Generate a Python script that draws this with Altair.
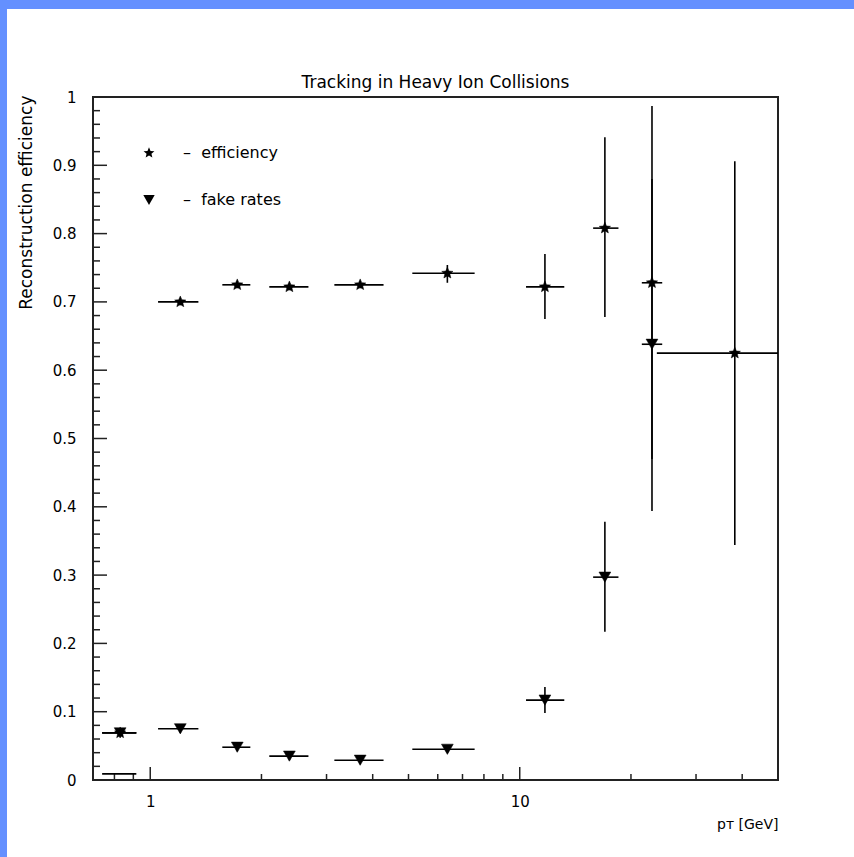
import altair as alt
import pandas as pd

FONT = "DejaVu Sans"
BLUE = "#6490ff"

title_text = "Tracking in Heavy Ion Collisions"
series_names = ["efficiency", "fake rates"]

# bins (p_T, GeV)
bin_center = [0.829, 1.206, 1.72, 2.38, 3.7, 6.37, 11.7, 17.0, 22.8, 38.2]
bin_low = [0.741, 1.05, 1.567, 2.10, 3.15, 5.12, 10.4, 15.8, 21.4, 23.5]
bin_high = [0.917, 1.35, 1.866, 2.68, 4.28, 7.55, 13.2, 18.5, 24.3, 50.0]

# efficiency
eff_y = [0.069, 0.700, 0.725, 0.722, 0.725, 0.742, 0.722, 0.808, 0.728, 0.625]
eff_lo = [0.064, 0.695, 0.720, 0.717, 0.720, 0.728, 0.675, 0.678, 0.470, 0.344]
eff_hi = [0.074, 0.705, 0.730, 0.727, 0.730, 0.754, 0.770, 0.941, 0.987, 0.906]

# fake rates (first 9 bins)
fake_y = [0.069, 0.075, 0.048, 0.035, 0.029, 0.045, 0.117, 0.297, 0.638]
fake_lo = [0.064, 0.069, 0.042, 0.029, 0.023, 0.040, 0.098, 0.217, 0.394]
fake_hi = [0.074, 0.081, 0.054, 0.041, 0.035, 0.050, 0.136, 0.378, 0.880]

# lowest bar near zero in first bin
low_bar_lo = [0.741]
low_bar_hi = [0.917]
low_bar_y = [0.009]

# axis ticks
x_major = [1, 10]
x_minor = [0.8, 0.9, 2, 3, 4, 5, 6, 7, 8, 9, 20, 30, 40]
y_major = [0, 0.1, 0.2, 0.3, 0.4, 0.5, 0.6, 0.7, 0.8, 0.9, 1.0]
y_minor = [round(m + k * 0.02, 2) for m in y_major[:-1] for k in (1, 2, 3, 4)]

STAR = ("M0,-1L0.265,-0.364L0.951,-0.309L0.428,0.139L0.588,0.809L0,0.45"
        "L-0.588,0.809L-0.428,0.139L-0.951,-0.309L-0.265,-0.364Z")

rows = []
for i in range(len(eff_y)):
    rows.append(dict(series=series_names[0], x=bin_center[i], xlo=bin_low[i], xhi=bin_high[i],
                     y=eff_y[i], ylo=eff_lo[i], yhi=eff_hi[i]))
for i in range(len(fake_y)):
    rows.append(dict(series=series_names[1], x=bin_center[i], xlo=bin_low[i], xhi=bin_high[i],
                     y=fake_y[i], ylo=fake_lo[i], yhi=fake_hi[i]))
df = pd.DataFrame(rows)
low_df = pd.DataFrame(dict(xlo=low_bar_lo, xhi=low_bar_hi, y=low_bar_y))

W, H = 685, 683

xs = alt.Scale(type="log", domain=[0.7, 50], nice=False)
ys = alt.Scale(domain=[0, 1], nice=False, zero=False)

xaxis = alt.Axis(values=x_major, format="~g", ticks=False, domain=False, grid=False,
                 labelFont=FONT, labelFontSize=15, labelColor="black", labelPadding=14,
                 title="p\u1d1b [GeV]", titleFont=FONT, titleFontSize=14, titleFontWeight="normal",
                 titleColor="black", titleX=W, titleY=48, titleAlign="right",
                 titleBaseline="alphabetic")
yaxis = alt.Axis(values=y_major, format="~g", ticks=False, domain=False, grid=False,
                 labelFont=FONT, labelFontSize=15, labelColor="black", labelPadding=17,
                 title="Reconstruction efficiency", titleFont=FONT, titleFontSize=17,
                 titleFontWeight="normal", titleColor="black", titleAngle=270,
                 titleAlign="right", titleBaseline="middle", titleX=-67, titleY=-2)

one = alt.Data(values=[{"a": 1}])
top_band = alt.Chart(one).mark_rect(color=BLUE).encode(
    x=alt.value(-93), x2=alt.value(854 - 93), y=alt.value(-97), y2=alt.value(-88))
left_band = alt.Chart(one).mark_rect(color=BLUE).encode(
    x=alt.value(-93), x2=alt.value(-86), y=alt.value(-97), y2=alt.value(857 - 97))
title_mark = alt.Chart(one).mark_text(
    text=title_text, font=FONT, fontSize=17, color="black", align="center",
    baseline="alphabetic").encode(x=alt.value(W / 2), y=alt.value(-9))

base = alt.Chart(df)
xbars = base.mark_rule(color="black", strokeWidth=1.6).encode(
    x=alt.X("xlo:Q", scale=xs, axis=xaxis), x2="xhi:Q",
    y=alt.Y("y:Q", scale=ys, axis=yaxis))
ybars = base.mark_rule(color="black", strokeWidth=1.6).encode(
    x=alt.X("x:Q", scale=xs, axis=xaxis),
    y=alt.Y("ylo:Q", scale=ys, axis=yaxis), y2="yhi:Q")
points = base.mark_point(filled=True, fill="black", stroke="black", strokeWidth=0.5,
                         opacity=1, size=140).encode(
    x=alt.X("x:Q", scale=xs, axis=xaxis),
    y=alt.Y("y:Q", scale=ys, axis=yaxis),
    shape=alt.Shape("series:N",
                    scale=alt.Scale(domain=series_names, range=[STAR, "triangle-down"]),
                    legend=alt.Legend(orient="none", legendX=48, legendY=48, title=None,
                                      rowPadding=31, symbolSize=130, padding=0,
                                      symbolFillColor="black", symbolStrokeColor="black",
                                      labelFont=FONT, labelFontSize=16, labelColor="black",
                                      labelOffset=26,
                                      labelExpr="'\u2013\u00a0\u00a0' + datum.label")))
low_bar = alt.Chart(low_df).mark_rule(color="black", strokeWidth=1.6).encode(
    x=alt.X("xlo:Q", scale=xs, axis=xaxis), x2="xhi:Q",
    y=alt.Y("y:Q", scale=ys, axis=yaxis))

ytick_major = alt.Chart(pd.DataFrame(dict(v=y_major))).mark_rule(color="#222", strokeWidth=1.5).encode(
    y=alt.Y("v:Q", scale=ys, axis=yaxis), x=alt.value(0), x2=alt.value(14))
ytick_minor = alt.Chart(pd.DataFrame(dict(v=y_minor))).mark_rule(color="#222", strokeWidth=1.5).encode(
    y=alt.Y("v:Q", scale=ys, axis=yaxis), x=alt.value(0), x2=alt.value(7))
xtick_major = alt.Chart(pd.DataFrame(dict(v=x_major))).mark_rule(color="#222", strokeWidth=1.5).encode(
    x=alt.X("v:Q", scale=xs, axis=xaxis), y=alt.value(H), y2=alt.value(H - 13))
xtick_minor = alt.Chart(pd.DataFrame(dict(v=x_minor))).mark_rule(color="#222", strokeWidth=1.5).encode(
    x=alt.X("v:Q", scale=xs, axis=xaxis), y=alt.value(H), y2=alt.value(H - 6))

chart = alt.layer(
    top_band, left_band, title_mark, ytick_major, ytick_minor, xtick_major, xtick_minor,
    xbars, ybars, low_bar, points
).properties(
    width=W, height=H,
    autosize=alt.AutoSizeParams(type="none"),
    padding={"left": 93, "top": 97, "right": 76, "bottom": 77},
    background="white",
).configure_view(stroke="#222", strokeWidth=2)

chart.save("out.html", embed_options={"renderer": "svg", "actions": False})
